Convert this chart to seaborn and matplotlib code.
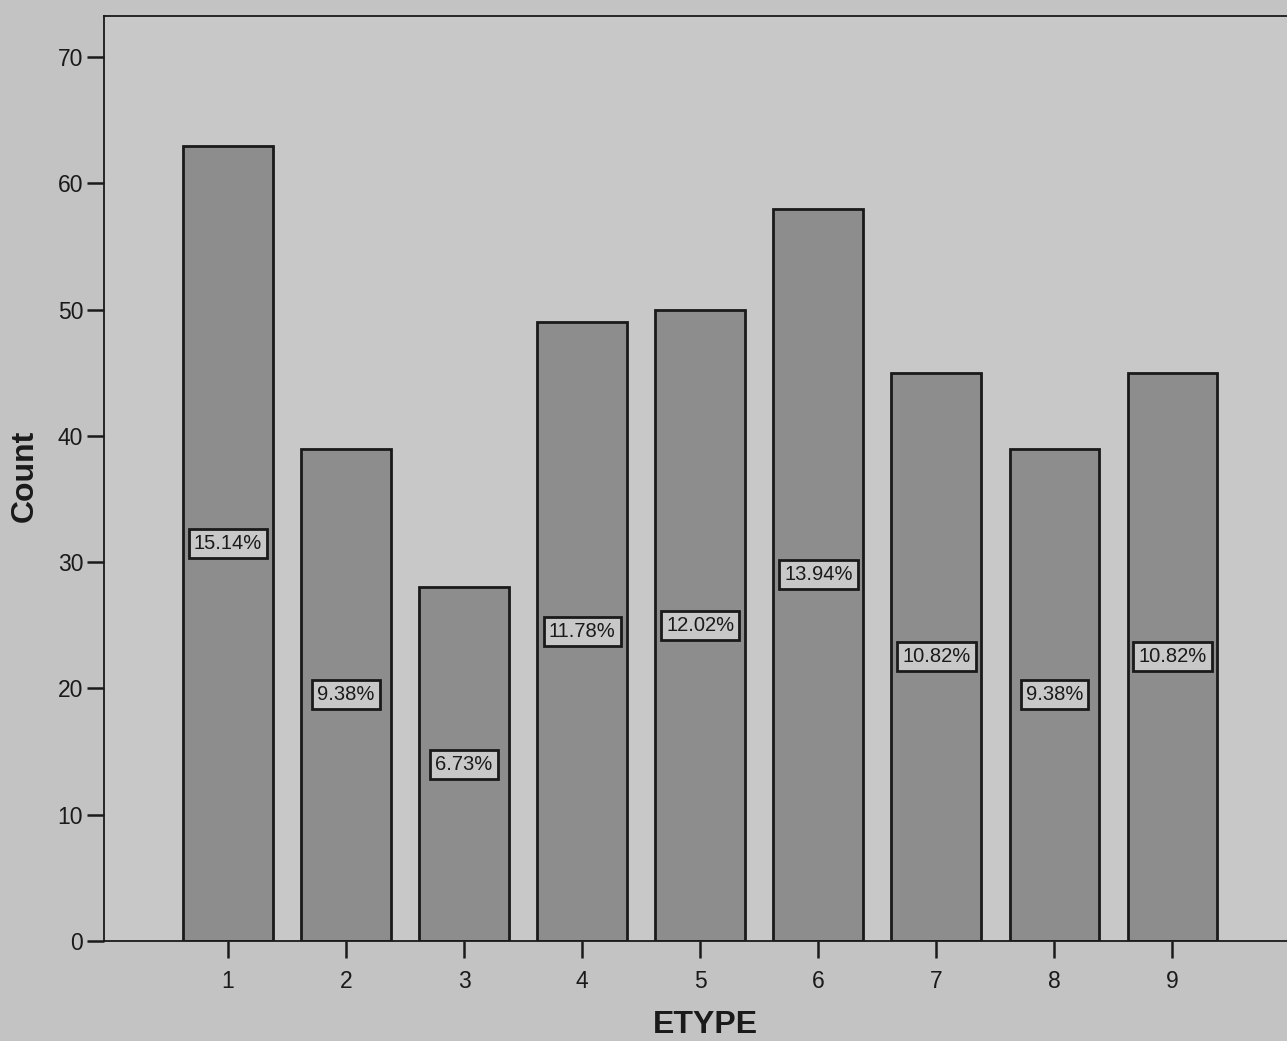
import matplotlib
matplotlib.use("Agg")
import matplotlib.pyplot as plt
import seaborn as sns
import pandas as pd

# ETYPE counts (total 416)
etype = ["1", "2", "3", "4", "5", "6", "7", "8", "9"]
counts = [63, 39, 28, 49, 50, 58, 45, 39, 45]
pct_labels = ["15.14%", "9.38%", "6.73%", "11.78%", "12.02%",
              "13.94%", "10.82%", "9.38%", "10.82%"]

sns.set_style("ticks")
plt.rcParams["font.family"] = ["Liberation Sans", "DejaVu Sans"]

df = pd.DataFrame({"ETYPE": etype, "Count": counts})

fig = plt.figure(figsize=(12.87, 10.41), dpi=100, facecolor="#c3c3c3")
ax = fig.add_axes([0.0808, 0.0961, 0.9192, 0.889])
ax.set_facecolor("#c8c8c8")

sns.barplot(data=df, x="ETYPE", y="Count", color="#8d8d8d", saturation=1,
            edgecolor="#1a1a1a", linewidth=2, width=0.76, ax=ax)

# percentage boxes in the middle of each bar
for i, (c, lab) in enumerate(zip(counts, pct_labels)):
    ax.text(i, c / 2, lab, ha="center", va="center", fontsize=14.5,
            color="#1a1a1a",
            bbox=dict(boxstyle="square,pad=0.25", facecolor="#c8c8c8",
                      edgecolor="#1a1a1a", linewidth=2))

ax.set_xlim(-1.05, 8.97)
ax.set_ylim(0, 73.3)
ax.set_yticks(range(0, 71, 10))

for side in ["left", "top", "bottom"]:
    ax.spines[side].set_color("#1a1a1a")
    ax.spines[side].set_linewidth(1.3)
ax.spines["right"].set_visible(False)

ax.tick_params(axis="both", length=12, width=1.8, color="#1a1a1a",
               labelsize=16.5, labelcolor="#1a1a1a")
ax.tick_params(axis="x", pad=9)
ax.tick_params(axis="y", pad=3)

ax.set_xlabel("ETYPE", fontsize=23, fontweight="bold", color="#1a1a1a")
ax.set_ylabel("Count", fontsize=23, fontweight="bold", color="#1a1a1a")
ax.xaxis.set_label_coords(0.508, -0.0907)
ax.xaxis.label.set_va("center")
ax.yaxis.set_label_coords(-0.0668, 0.503)
ax.yaxis.label.set_va("center")

fig.savefig("out.png", dpi=100, facecolor=fig.get_facecolor())
